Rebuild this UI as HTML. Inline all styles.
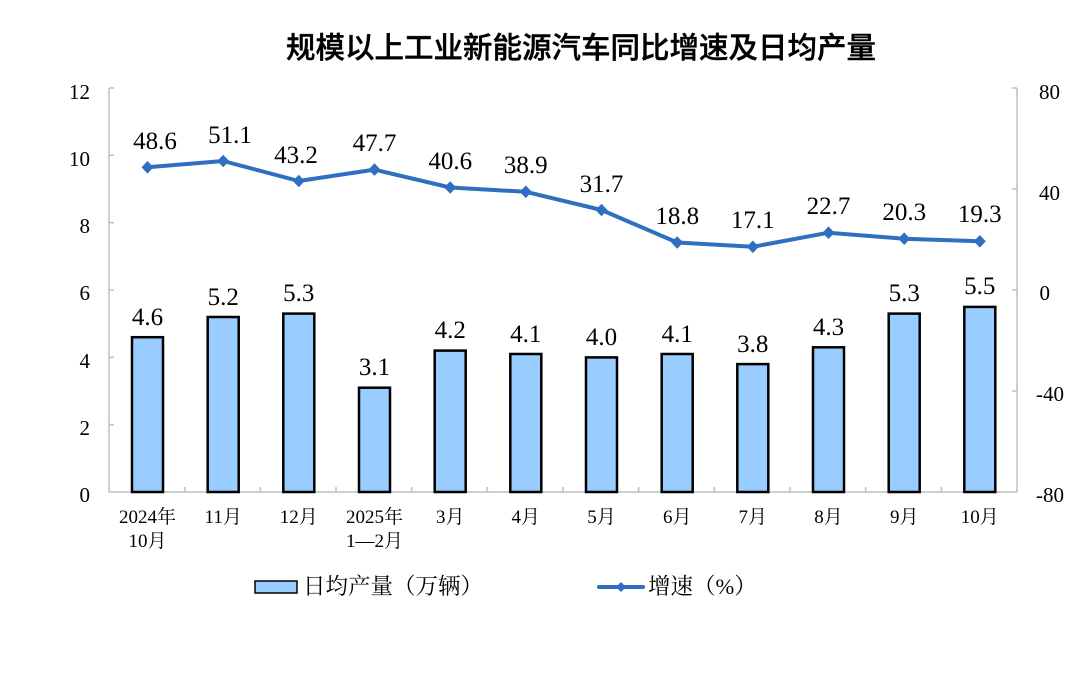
<!DOCTYPE html>
<html><head><meta charset="utf-8"><style>
html,body{margin:0;padding:0;background:#fff;}
svg text{font-family:"Liberation Serif","Noto Serif CJK SC",serif;}
</style></head><body>
<svg width="1080" height="668" viewBox="0 0 1080 668" xmlns="http://www.w3.org/2000/svg">
<text x="581" y="58" text-anchor="middle" font-size="29.5" style="font-family:'Liberation Sans','Noto Sans CJK SC',sans-serif;font-weight:500" fill="#000" stroke="#000" stroke-width="0.4">规模以上工业新能源汽车同比增速及日均产量</text>
<g stroke="#bfbfbf" stroke-width="1.5" fill="none">
<line x1="109" y1="88" x2="109" y2="492"/>
<line x1="1017" y1="88" x2="1017" y2="492"/>
<line x1="109" y1="492" x2="1017" y2="492"/>
<line x1="109" y1="88" x2="114" y2="88"/><line x1="109" y1="155.3" x2="114" y2="155.3"/><line x1="109" y1="222.7" x2="114" y2="222.7"/><line x1="109" y1="290" x2="114" y2="290"/><line x1="109" y1="357.3" x2="114" y2="357.3"/><line x1="109" y1="424.7" x2="114" y2="424.7"/>
<line x1="1012" y1="88" x2="1017" y2="88"/><line x1="1012" y1="189" x2="1017" y2="189"/><line x1="1012" y1="290" x2="1017" y2="290"/><line x1="1012" y1="391" x2="1017" y2="391"/>
<line x1="184.7" y1="487" x2="184.7" y2="492"/><line x1="260.3" y1="487" x2="260.3" y2="492"/><line x1="336" y1="487" x2="336" y2="492"/><line x1="411.7" y1="487" x2="411.7" y2="492"/><line x1="487.3" y1="487" x2="487.3" y2="492"/><line x1="563" y1="487" x2="563" y2="492"/><line x1="638.7" y1="487" x2="638.7" y2="492"/><line x1="714.3" y1="487" x2="714.3" y2="492"/><line x1="790" y1="487" x2="790" y2="492"/><line x1="865.7" y1="487" x2="865.7" y2="492"/><line x1="941.3" y1="487" x2="941.3" y2="492"/>
</g>
<g font-size="21" text-anchor="end" fill="#000">
<text x="90" y="99">12</text><text x="90" y="166">10</text><text x="90" y="233">8</text><text x="90" y="300">6</text><text x="90" y="368">4</text><text x="90" y="435">2</text><text x="90" y="502">0</text>
</g>
<g font-size="21" text-anchor="end" fill="#000">
<text x="1060" y="99">80</text><text x="1060" y="200">40</text><text x="1050" y="300">0</text><text x="1064" y="401">-40</text><text x="1064" y="502">-80</text>
</g>
<g fill="#99ccff" stroke="#000" stroke-width="2.5">
<rect x="132" y="337.2" width="31" height="154.8"/>
<rect x="207.7" y="317" width="31" height="175"/>
<rect x="283.3" y="313.6" width="31" height="178.4"/>
<rect x="359" y="387.7" width="31" height="104.3"/>
<rect x="434.7" y="350.6" width="31" height="141.4"/>
<rect x="510.3" y="354" width="31" height="138"/>
<rect x="586" y="357.4" width="31" height="134.6"/>
<rect x="661.7" y="354" width="31" height="138"/>
<rect x="737.3" y="364.1" width="31" height="127.9"/>
<rect x="813" y="347.3" width="31" height="144.7"/>
<rect x="888.7" y="313.6" width="31" height="178.4"/>
<rect x="964.3" y="306.9" width="31" height="185.1"/>
</g>
<g font-size="25" text-anchor="middle" fill="#000">
<text x="147.5" y="325">4.6</text><text x="223.2" y="305">5.2</text><text x="298.8" y="301">5.3</text><text x="374.5" y="375">3.1</text><text x="450.2" y="338">4.2</text><text x="525.8" y="342">4.1</text><text x="601.5" y="345">4.0</text><text x="677.2" y="342">4.1</text><text x="752.8" y="352">3.8</text><text x="828.5" y="335">4.3</text><text x="904.2" y="301">5.3</text><text x="979.8" y="294">5.5</text>
</g>
<polyline fill="none" stroke="#2f6fc0" stroke-width="4" stroke-linejoin="round" points="147.5,167.3 223.2,161 298.8,181 374.5,169.6 450.2,187.5 525.8,191.8 601.5,210 677.2,242.5 752.8,246.8 828.5,232.7 904.2,238.7 979.8,241.3"/>
<g fill="#2f6fc0">
<polygon points="147.5,161 153.5,167.3 147.5,173.6 141.5,167.3"/>
<polygon points="223.2,154.7 229.2,161 223.2,167.3 217.2,161"/>
<polygon points="298.8,174.7 304.8,181 298.8,187.3 292.8,181"/>
<polygon points="374.5,163.3 380.5,169.6 374.5,175.9 368.5,169.6"/>
<polygon points="450.2,181.2 456.2,187.5 450.2,193.8 444.2,187.5"/>
<polygon points="525.8,185.5 531.8,191.8 525.8,198.1 519.8,191.8"/>
<polygon points="601.5,203.7 607.5,210 601.5,216.3 595.5,210"/>
<polygon points="677.2,236.2 683.2,242.5 677.2,248.8 671.2,242.5"/>
<polygon points="752.8,240.5 758.8,246.8 752.8,253.1 746.8,246.8"/>
<polygon points="828.5,226.4 834.5,232.7 828.5,239 822.5,232.7"/>
<polygon points="904.2,232.4 910.2,238.7 904.2,245 898.2,238.7"/>
<polygon points="979.8,235 985.8,241.3 979.8,247.6 973.8,241.3"/>
</g>
<g font-size="25" text-anchor="middle" fill="#000">
<text x="155" y="149">48.6</text><text x="230" y="143">51.1</text><text x="296" y="163">43.2</text><text x="374.5" y="151">47.7</text><text x="450.2" y="169">40.6</text><text x="525.8" y="173">38.9</text><text x="601.5" y="192">31.7</text><text x="677.2" y="224">18.8</text><text x="752.8" y="228">17.1</text><text x="828.5" y="214">22.7</text><text x="904.2" y="220">20.3</text><text x="979.8" y="222">19.3</text>
</g>
<g font-size="19" text-anchor="middle" fill="#000">
<text x="147.5" y="523">2024年</text><text x="147.5" y="547">10月</text>
<text x="223.2" y="523">11月</text><text x="298.8" y="523">12月</text>
<text x="374.5" y="523">2025年</text><text x="374.5" y="547">1—2月</text>
<text x="450.2" y="523">3月</text><text x="525.8" y="523">4月</text><text x="601.5" y="523">5月</text><text x="677.2" y="523">6月</text><text x="752.8" y="523">7月</text><text x="828.5" y="523">8月</text><text x="904.2" y="523">9月</text><text x="979.8" y="523">10月</text>
</g>
<rect x="255" y="581" width="42" height="12" fill="#99ccff" stroke="#000" stroke-width="1.5"/>
<text x="303" y="594" font-size="22.5" fill="#000">日均产量（万辆）</text>
<line x1="599" y1="587" x2="643" y2="587" stroke="#2f6fc0" stroke-width="4" stroke-linecap="round"/>
<polygon points="621,582 626,587 621,592 616,587" fill="#2f6fc0"/>
<text x="648" y="594" font-size="22.5" fill="#000">增速（%）</text>
</svg>
</body></html>
